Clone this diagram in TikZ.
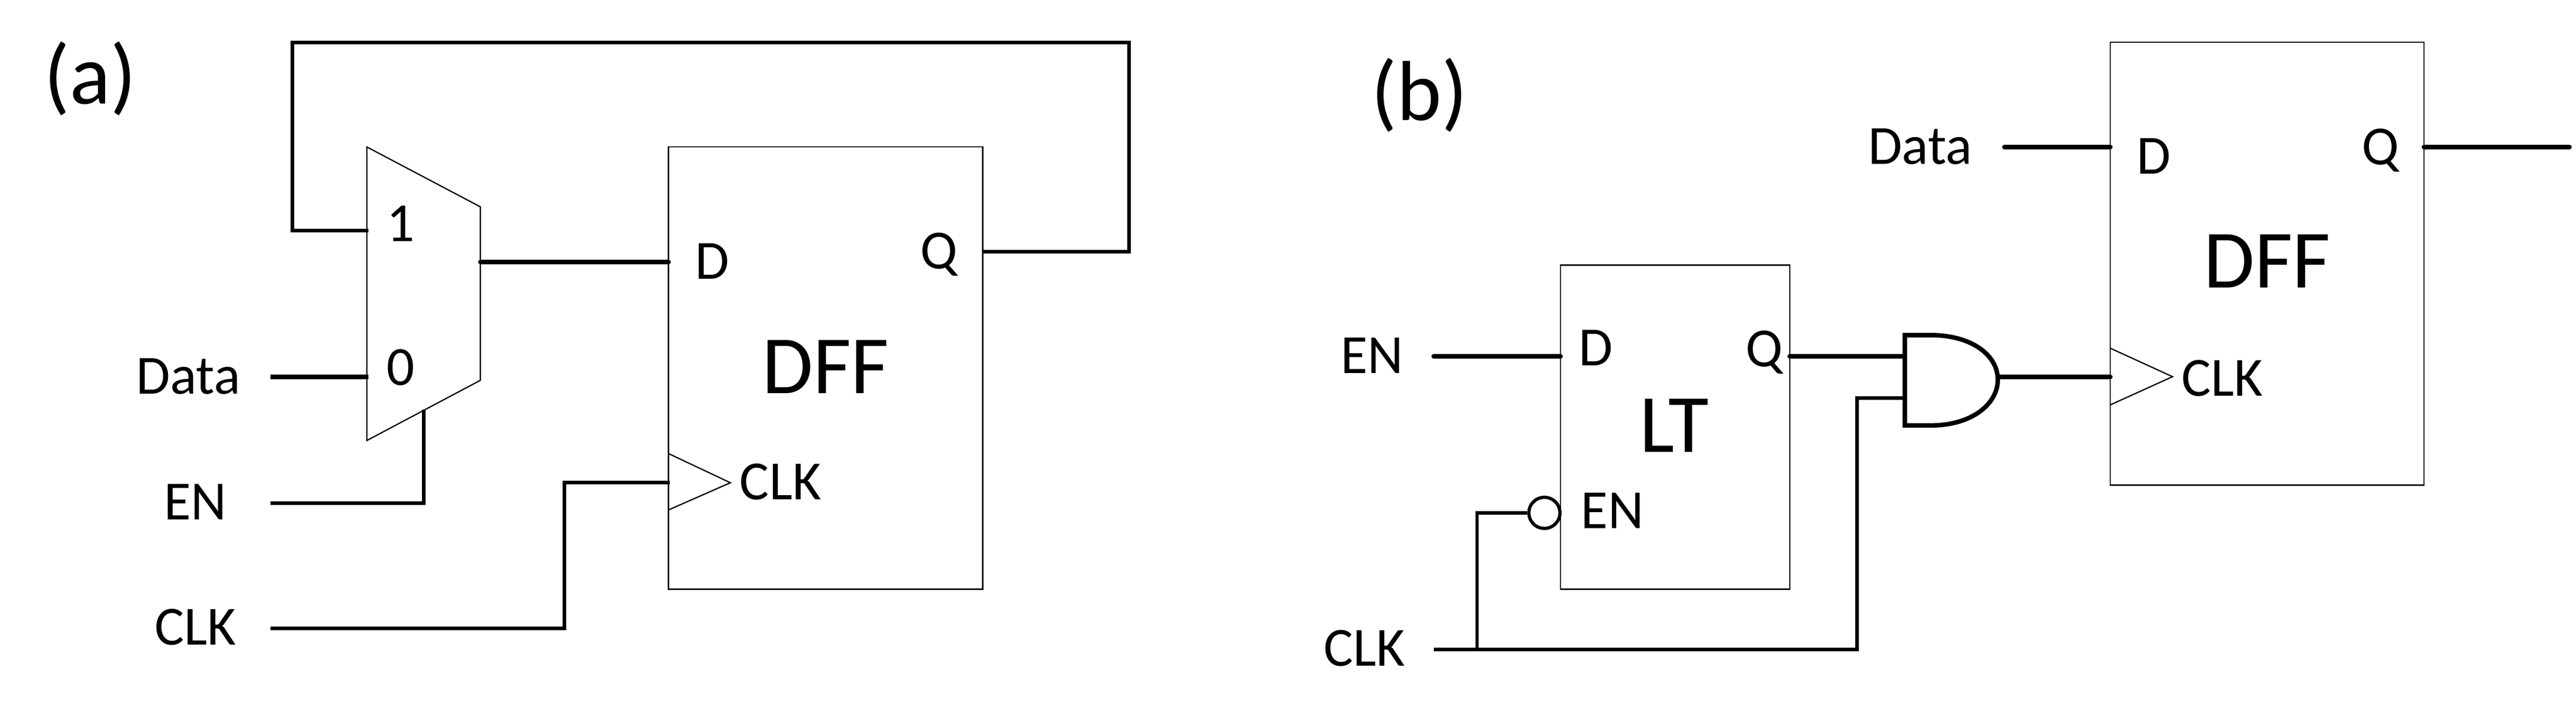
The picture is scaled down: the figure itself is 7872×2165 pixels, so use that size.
\documentclass[tikz,border=0pt]{standalone}
\usepackage{fontspec}
\setmainfont{Carlito}
\tikzset{
  thinbox/.style={draw=black,line width=1.1pt,fill=white,inner sep=0pt,outer sep=0pt},
  wire/.style={draw=black,line width=3.1pt,line join=miter},
  thickwire/.style={draw=black,line width=3.9pt,line join=miter},
  thinline/.style={draw=black,line width=1.1pt,line join=miter},
  lbl/.style={inner sep=0pt,text height=30.9pt,text depth=0pt,font=\fontsize{48}{52}\selectfont},
  big/.style={inner sep=0pt,text height=46.4pt,text depth=0pt,font=\fontsize{72}{78}\selectfont},
  panel/.style={inner sep=0pt,font=\fontsize{74}{80}\selectfont}
}
\begin{document}
\begin{tikzpicture}[x=0.01cm,y=-0.01cm]
\useasboundingbox[fill=white] (0,0) rectangle (7872,2165);
% ---- panel (a)
\node[panel] (pa) at (276,240) {(a)};
\node[thinbox,minimum width=9.60cm,minimum height=13.51cm] (dffa) at (2523,1124.5) {};
\coordinate (muxTL) at (1121,449);
\coordinate (muxTR) at (1468,632);
\coordinate (muxBR) at (1468,1162);
\coordinate (muxBL) at (1121,1346);
\draw[thinline] (muxTL) -- (muxTR) -- (muxBR) -- (muxBL) -- cycle;
\coordinate (muxA) at (1126,705);
\coordinate (muxB) at (1126,1152);
\coordinate (muxS) at (1295,1252);
\coordinate (muxO) at (1468,801);
\coordinate (dffaD) at (2043,801);
\coordinate (dffaQ) at (3003,769);
\coordinate (dffaC) at (2046,1475);
\coordinate (trAt) at (2043,1386);
\coordinate (trAb) at (2043,1558);
\coordinate (trAp) at (2232,1475);
\draw[thinline] (trAt) -- (trAp) -- (trAb);
\coordinate (inDa) at (826,1152);
\coordinate (inEa) at (826,1537);
\coordinate (inCa) at (826,1920);
\coordinate (fbR) at (3450,129.5);
\coordinate (fbL) at (893,129.5);
\coordinate (bendA) at (1725,1475);
\draw[wire] (dffaQ) -| (fbR) -- (fbL) |- (muxA);
\draw[thickwire] (inDa) -- (muxB);
\draw[wire] (inEa) -| (muxS);
\draw[wire] (inCa) -| (bendA) -- (dffaC);
\draw[thickwire,line cap=round] (muxO) -- (dffaD);
\node[lbl] (ta1) at (1224,684) {1};
\node[lbl] (ta0) at (1224,1123) {0};
\node[lbl] (taData) at (575,1150) {Data};
\node[lbl] (taEN) at (597,1534) {EN};
\node[lbl] (taCLK) at (597,1916) {CLK};
\node[lbl] (taD) at (2177,798) {D};
\node[lbl] (taQ) at (2870,766) {Q};
\node[big] (taDFF) at (2523,1120) {DFF};
\node[lbl] (taC) at (2385,1472) {CLK};
% ---- panel (b)
\node[panel] (pb) at (4337,290) {(b)};
\node[thinbox,minimum width=9.58cm,minimum height=13.525cm] (dffb) at (6928,805.75) {};
\node[thinbox,minimum width=7.00cm,minimum height=9.90cm] (lt) at (5119,1305) {};
\coordinate (dffbD) at (6449,449.5);
\coordinate (dffbQ) at (7407,449.5);
\coordinate (dffbC) at (6449,1152);
\coordinate (outQ) at (7852,449.5);
\coordinate (inDb) at (6125,449.5);
\coordinate (trBt) at (6449,1064);
\coordinate (trBb) at (6449,1237);
\coordinate (trBp) at (6639,1151);
\draw[thinline] (trBt) -- (trBp) -- (trBb);
\coordinate (andTL) at (5821,1024);
\coordinate (andTM) at (5900,1024);
\coordinate (andBL) at (5821,1300);
\coordinate (andBM) at (5900,1300);
\coordinate (andR) at (6105,1160);
\draw[thickwire] (andTL) -- (andTM) .. controls (6025,1024) and (6105,1085) .. (andR) .. controls (6105,1235) and (6025,1300) .. (andBM) -- (andBL) -- cycle;
\coordinate (andA) at (5821,1089);
\coordinate (andB) at (5821,1216);
\coordinate (andO) at (6105,1152);
\coordinate (ltD) at (4769,1089);
\coordinate (ltQ) at (5469,1089);
\coordinate (inEb) at (4381,1089);
\coordinate (inCb) at (4381,1985);
\coordinate (branch) at (4514,1985);
\coordinate (bendB) at (5675,1985);
\node[draw=black,line width=2.8pt,fill=white,circle,inner sep=0pt,minimum size=0.95cm] (bub) at (4719.5,1567) {};
\draw[thickwire,line cap=round] (inDb) -- (dffbD);
\draw[thickwire,line cap=round] (dffbQ) -- (outQ);
\draw[thickwire,line cap=round] (andO) -- (dffbC);
\draw[thickwire,line cap=round] (ltQ) -- (andA);
\draw[thickwire,line cap=round] (inEb) -- (ltD);
\draw[wire] (inCb) -- (bendB) |- (andB);
\draw[wire,line width=2.9pt] (branch) |- (bub.west);
\node[lbl] (tbData) at (5868,447) {Data};
\node[lbl] (tbD) at (6581,477) {D};
\node[lbl] (tbQ) at (7274,448) {Q};
\node[big] (tbDFF) at (6928,798) {DFF};
\node[lbl] (tbC) at (6791,1155) {CLK};
\node[lbl] (tbEN) at (4193,1086) {EN};
\node[lbl] (tbLD) at (4877,1063) {D};
\node[lbl] (tbLQ) at (5392,1066) {Q};
\node[big] (tbLT) at (5116,1300) {LT};
\node[lbl] (tbLE) at (4927,1560) {EN};
\node[lbl] (tbCLK) at (4170,1980) {CLK};
\end{tikzpicture}
\end{document}
